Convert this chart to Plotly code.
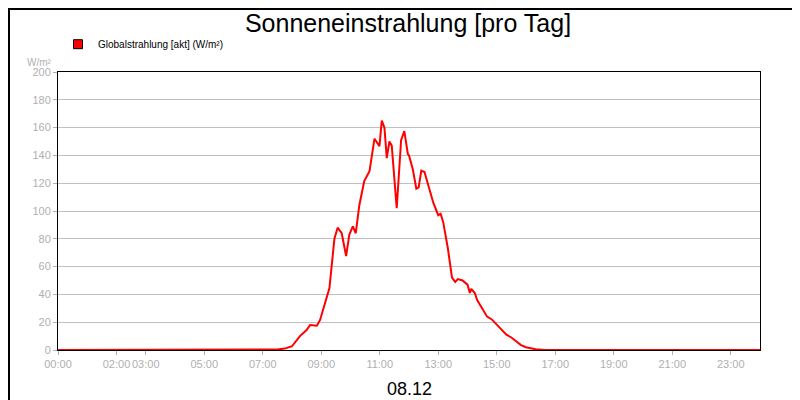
import plotly.graph_objects as go

# hours of day and radiation in W/m²
hours = [0, 7.0, 7.5, 7.75, 8.0, 8.27, 8.5, 8.62, 8.85, 8.96, 9.05, 9.28, 9.45, 9.56, 9.7, 9.85,
         9.96, 10.08, 10.18, 10.3, 10.47, 10.65, 10.82, 10.99, 11.07, 11.16, 11.24, 11.33, 11.41,
         11.58, 11.73, 11.84, 11.96, 12.0, 12.13, 12.25, 12.33, 12.42, 12.53, 12.67, 12.83, 13.0,
         13.08, 13.17, 13.33, 13.47, 13.58, 13.67, 13.83, 14.0, 14.08, 14.13, 14.25, 14.33, 14.5,
         14.67, 14.83, 15.0, 15.17, 15.33, 15.5, 15.67, 15.83, 16.0, 16.33, 16.67, 24]
values = [0, 0, 0.3, 1, 2.7, 10, 14.4, 18, 17.5, 21.6, 28, 44.6, 80, 88, 84, 67.6,
          83, 89, 84, 104, 121.5, 128.7, 152, 146.7, 165, 160, 138, 150, 147,
          102, 151, 157.5, 141, 140, 130, 116, 117, 129, 128, 117, 106, 97,
          98, 92, 73, 52, 49, 51, 50, 47, 41, 44, 41, 36, 30,
          24, 22, 18, 14, 11, 9, 6, 3.5, 2, 0.5, 0, 0]
tick_hours = [0, 2, 3, 5, 7, 9, 11, 13, 15, 17, 19, 21, 23]
tick_text = ["00:00", "02:00", "03:00", "05:00", "07:00", "09:00", "11:00", "13:00",
             "15:00", "17:00", "19:00", "21:00", "23:00"]

fig = go.Figure()
fig.add_trace(go.Scatter(x=hours, y=values, mode="lines", line=dict(color="#ff0000", width=2),
                         showlegend=False))
# legend entry as red square
fig.add_trace(go.Scatter(x=[None], y=[None], mode="markers", name="Globalstrahlung [akt] (W/m²)",
                         marker=dict(symbol="square", size=9, color="#ff0000",
                                     line=dict(color="black", width=1))))
# hourly grid lines
for h in range(1, 24):
    fig.add_vline(x=h, line=dict(color="#c0c0c0", width=1), layer="below")

fig.update_layout(
    width=800, height=400,
    margin=dict(l=50, r=48, t=64, b=58, autoexpand=False),
    paper_bgcolor="white", plot_bgcolor="white",
    font=dict(family="Arial", size=11, color="#b0b0b0"),
    title=dict(text="Sonneneinstrahlung [pro Tag]", x=0.5, y=0.985, yanchor="top",
               font=dict(size=25, color="black")),
    showlegend=True,
    legend=dict(x=0.0, y=1.1, xanchor="left", yanchor="middle", xref="paper",
                bgcolor="rgba(0,0,0,0)", font=dict(size=10, color="black"),
                itemwidth=30, tracegroupgap=0),
    xaxis=dict(range=[0, 24], tickvals=tick_hours, ticktext=tick_text, showgrid=False,
               tickangle=0, ticks="outside", ticklen=4, tickcolor="#b0b0b0", zeroline=False,
               showline=True, linecolor="black", mirror=True, linewidth=1),
    yaxis=dict(range=[0, 200], dtick=20, gridcolor="#c0c0c0", ticks="outside", ticklen=4,
               tickcolor="#b0b0b0", zeroline=False, showline=True, linecolor="black",
               mirror=True, linewidth=1),
    shapes=[dict(type="rect", xref="paper", yref="paper", x0=-0.0705, x1=1.0670,
                 y0=-0.2055, y1=1.2266, line=dict(color="black", width=2))],
    annotations=[
        dict(text="W/m²", xref="paper", yref="paper", x=-0.005, y=1.06, xanchor="right",
             showarrow=False, font=dict(size=10, color="#b0b0b0")),
        dict(text="08.12", xref="paper", yref="paper", x=0.5, y=-0.14, yanchor="middle",
             showarrow=False, font=dict(size=18, color="black")),
    ],
)
fig.write_html("out.html")
